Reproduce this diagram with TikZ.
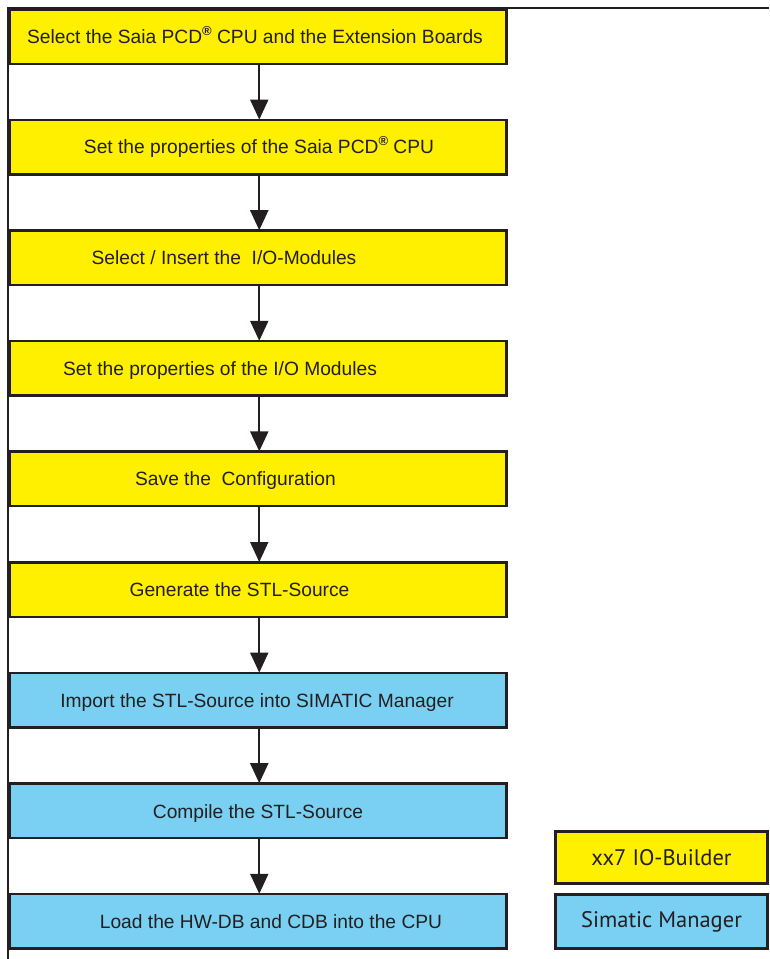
\documentclass[tikz,border=0pt]{standalone}
\usepackage{fontspec}
\setmainfont{Liberation Sans}
\newfontfamily\legendfont{PT Sans}
\usetikzlibrary{arrows.meta}
\definecolor{ink}{HTML}{231F20}
\definecolor{ylw}{HTML}{FFF000}
\definecolor{sky}{HTML}{7AD0F2}
\newcommand{\regmark}{\raisebox{0.4em}{\fontsize{13}{13}\selectfont\bfseries ®}}
\tikzset{
  stepbox/.style={draw=ink, line width=2.5pt, minimum width=497pt, minimum height=54.5pt, inner sep=0pt, anchor=north west},
  ybox/.style={stepbox, fill=ylw},
  bbox/.style={stepbox, fill=sky},
  steptext/.style={text=ink, font=\fontsize{19.2}{21}\selectfont, inner sep=0pt, anchor=base},
  legbox/.style={draw=ink, line width=2.5pt, minimum width=212pt, minimum height=52pt, inner sep=0pt, anchor=north west, text=ink, font=\legendfont\fontsize{22.5}{24}\selectfont},
  flow/.style={draw=ink, line width=2pt, -{Triangle[width=18pt,length=20pt]}, shorten >=-1pt}
}
\begin{document}
\begin{tikzpicture}[x=1pt,y=-1pt]
\useasboundingbox (0,0) rectangle (769,959);
% outer frame
\coordinate (fr) at (769,8);
\coordinate (fc) at (8,8);
\coordinate (fb) at (8,959);
\draw[draw=ink, line width=2.5pt] (fr) -- (fc) -- (fb);
% boxes
\node[ybox] (b1) at (8,8) {};
\node[ybox] (b2) at (8,118.6) {};
\node[ybox] (b3) at (8,229.2) {};
\node[ybox] (b4) at (8,339.8) {};
\node[ybox] (b5) at (8,450.4) {};
\node[ybox] (b6) at (8,561) {};
\node[bbox] (b7) at (8,671.6) {};
\node[bbox] (b8) at (8,782.2) {};
\node[bbox] (b9) at (8,892.8) {};
% texts
\node[steptext] (t1) at (255,43.5) {Select the Saia PCD\regmark{} CPU and the Extension Boards};
\node[steptext] (t2) at (259,153) {Set the properties of the Saia PCD\regmark{} CPU};
\node[steptext] (t3) at (224,264) {Select / Insert the\ \ I/O-Modules};
\node[steptext] (t4) at (220,375.5) {Set the properties of the I/O Modules};
\node[steptext] (t5) at (235.5,485.7) {Save the\ \ Configuration};
\node[steptext] (t6) at (239.5,596.5) {Generate the STL-Source};
\node[steptext] (t7) at (257,707.3) {Import the STL-Source into SIMATIC Manager};
\node[steptext] (t8) at (258,818) {Compile the STL-Source};
\node[steptext] (t9) at (271,928) {Load the HW-DB and CDB into the CPU};
% arrows
\foreach \a/\b in {b1/b2,b2/b3,b3/b4,b4/b5,b5/b6,b6/b7,b7/b8,b8/b9}
  \draw[flow] ([xshift=1.5pt]\a.south) -- ([xshift=1.5pt]\b.north);
% legend
\node[legbox, fill=ylw] (l1) at (554.25,830.25) {xx7 IO-Builder};
\node[legbox, fill=sky, minimum height=54pt] (l2) at (554.25,893.25) {Simatic Manager};
\end{tikzpicture}
\end{document}
